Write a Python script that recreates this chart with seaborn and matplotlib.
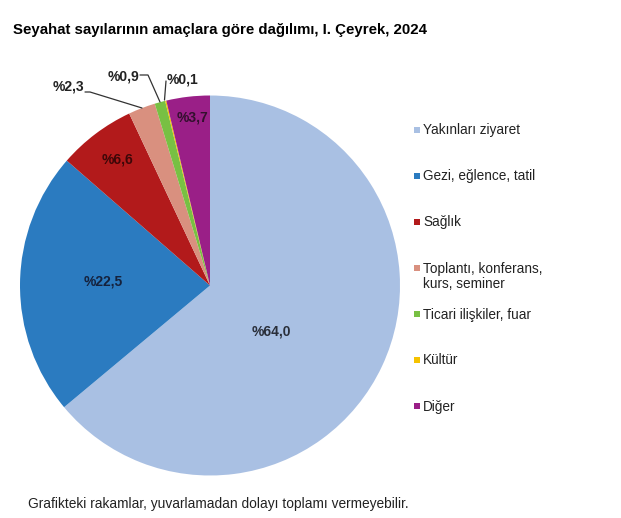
import matplotlib
matplotlib.use("Agg")
import matplotlib.pyplot as plt
import seaborn as sns
from matplotlib.patches import Rectangle

sns.set_theme(style="white")
plt.rcParams['font.family'] = ['Liberation Sans', 'DejaVu Sans']

categories = ["Yakınları ziyaret", "Gezi, eğlence, tatil", "Sağlık",
              "Toplantı, konferans,\nkurs, seminer", "Ticari ilişkiler, fuar",
              "Kültür", "Diğer"]
values = [64.0, 22.5, 6.6, 2.3, 0.9, 0.1, 3.7]
value_labels = ["%64,0", "%22,5", "%6,6", "%2,3", "%0,9", "%0,1", "%3,7"]
colors = ["#A9C0E3", "#2B7BC0", "#B21A1B", "#D9907F", "#78C043", "#F5C200", "#9A1F87"]
label_colors = ["#2a2f3a", "#15223d", "#3d0708", "#222222", "#222222", "#222222", "#33102e"]

title = "Seyahat sayılarının amaçlara göre dağılımı, I. Çeyrek, 2024"
footer = "Grafikteki rakamlar, yuvarlamadan dolayı toplamı vermeyebilir."

W, H = 621, 518
fig = plt.figure(figsize=(W / 100, H / 100), dpi=100)
fig.patch.set_facecolor("white")

cx, cy, r = 210, 285.5, 190
ax = fig.add_axes([(cx - r) / W, (H - cy - r) / H, 2 * r / W, 2 * r / H])
wedges, _ = ax.pie(values, colors=colors, startangle=90, counterclock=False,
                   radius=1.0, wedgeprops=dict(linewidth=0))
ax.set_xlim(-1, 1)
ax.set_ylim(-1, 1)
ax.set_aspect("equal")
ax.axis("off")

def px2data(x, y):
    return ((x - cx) / r, (cy - y) / r)

# inside labels (pixel positions)
inside = {0: (271, 331), 1: (103, 281), 2: (117, 160), 6: (192, 118)}
for i, (px, py) in inside.items():
    dx, dy = px2data(px, py)
    ax.text(dx, dy, value_labels[i], ha="center", va="center",
            fontsize=10, fontweight="bold", color=label_colors[i])

# outside labels with leader lines
outside = {
    3: ((68, 86.5), [(85, 92), (90, 92), (142, 108)]),
    4: ((123, 76.5), [(140, 75), (148, 75), (160, 102)]),
    5: ((182, 79.5), [(166, 81), (166, 81), (164.5, 100)]),
}
for i, ((lx, ly), pts) in outside.items():
    dx, dy = px2data(lx, ly)
    ax.text(dx, dy, value_labels[i], ha="center", va="center",
            fontsize=10, fontweight="bold", color=label_colors[i])
    xs, ys = zip(*[px2data(x, y) for x, y in pts])
    ax.plot(xs, ys, color="#333333", lw=0.9, clip_on=False)

# legend
leg_y = [129.5, 175.5, 221.5, 268, 314, 360, 406]
for lab, col, y in zip(categories, colors, leg_y):
    fig.patches.append(Rectangle((413.5 / W, (H - y - 3) / H), 6 / W, 6 / H,
                                 transform=fig.transFigure, facecolor=col,
                                 edgecolor="none"))
    lines = lab.split("\n")
    for k, line in enumerate(lines):
        fig.text(423 / W, (H - y - 4.5 - 15 * k) / H, line, ha="left",
                 va="baseline", fontsize=9.8, color="#222222")

fig.text(13 / W, (H - 34) / H, title, ha="left", va="baseline",
         fontsize=10.8, fontweight="bold", color="#000000")
fig.text(28 / W, (H - 508) / H, footer, ha="left", va="baseline",
         fontsize=9.9, color="#222222")

fig.savefig("out.png", dpi=100, facecolor="white")
